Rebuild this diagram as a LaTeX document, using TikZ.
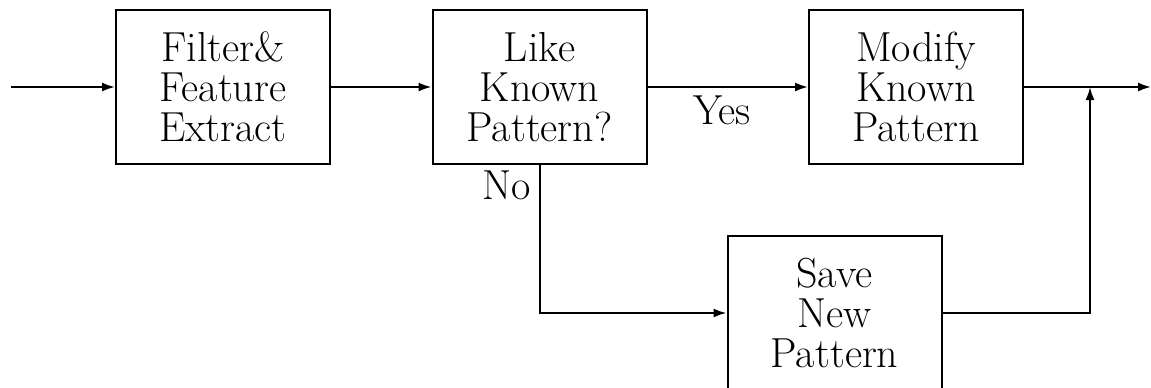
\documentclass[tikz,border=0pt]{standalone}
\usetikzlibrary{arrows.meta}
\begin{document}
\begin{tikzpicture}[x=0.5pt,y=-0.5pt,
 box/.style={draw, line width=1pt, minimum width=107pt, minimum height=77pt, inner sep=0pt, align=center, font=\fontsize{21}{20}\selectfont},
 lbl/.style={inner sep=0pt, font=\fontsize{21}{20}\selectfont},
 conn/.style={line width=1pt, -{Latex[length=6.5pt,width=4.5pt]}}]
\useasboundingbox (0,0) rectangle (1151,387);
\node[box] (f) at (223,87) {Filter\&\\Feature\\Extract};
\node[box] (l) at (539.5,87) {Like\\Known\\Pattern?};
\node[box] (m) at (916,87) {Modify\\Known\\Pattern};
\node[box] (s) at (834.5,313) {Save\\New\\Pattern};
\coordinate (in) at (11,87);
\coordinate (out) at (1151,87);
\coordinate (j) at (1090,87);
\draw[conn] (in) -- (f.west);
\draw[conn] (f.east) -- (l.west);
\draw[conn] (l.east) -- (m.west);
\draw[conn] (m.east) -- (out);
\draw[conn] (l.south) |- (s.west);
\draw[conn] (s.east) -| (j);
\node[lbl] (yes) at (722,110) {Yes};
\node[lbl] (no) at (507,185) {No};
\end{tikzpicture}
\end{document}
